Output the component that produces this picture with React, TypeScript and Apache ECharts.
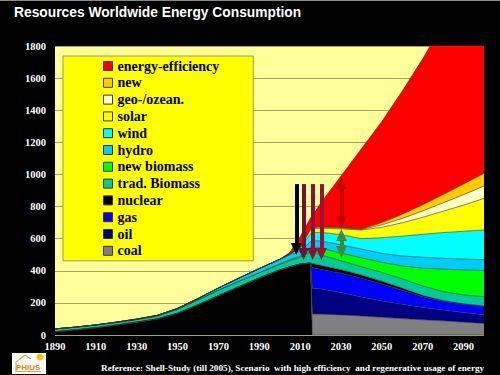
import React, { useEffect, useRef } from "react";
import * as echarts from "echarts";

const BASE_YEAR = 1890;
const years = [1890, 1900, 1910, 1920, 1930, 1940, 1950, 1960, 1970, 1980, 1990, 2000, 2005, 2010, 2015, 2016, 2020, 2030, 2040, 2050, 2060, 2070, 2080, 2090, 2100];

// historic fossil total (black) until 2015
const fossilHist = [20, 32, 45, 62, 80, 100, 135, 188, 245, 300, 355, 405, 425, 442, 448, 0, 0, 0, 0, 0, 0, 0, 0, 0, 0];
const coal = [0, 0, 0, 0, 0, 0, 0, 0, 0, 0, 0, 0, 0, 0, 0, 131, 130, 125, 118, 110, 102, 95, 88, 80, 72];
const oil = [0, 0, 0, 0, 0, 0, 0, 0, 0, 0, 0, 0, 0, 0, 0, 160, 157, 139, 118, 101, 89, 77, 67, 60, 54];
const gas = [0, 0, 0, 0, 0, 0, 0, 0, 0, 0, 0, 0, 0, 0, 0, 130, 123, 121, 118, 107, 88, 66, 55, 52, 54];
const nuclear = [0, 0, 0, 0, 0, 0, 0, 0, 0, 0, 0, 0, 0, 0, 0, 25, 24, 22, 20, 17, 13, 9, 5, 2, 0];
const tradBiomass = [18, 17, 17, 16, 16, 18, 25, 30, 34, 34, 32, 34, 38, 42, 70, 73, 65, 55, 52, 54, 58, 59, 55, 56, 58];
const newBiomass = [0, 0, 0, 0, 0, 0, 0, 0, 0, 0, 2, 4, 6, 8, 28, 31, 44, 48, 55, 64, 80, 110, 140, 155, 164];
const hydro = [0, 0, 1, 2, 3, 4, 6, 9, 14, 20, 25, 28, 30, 30, 36, 37, 43, 52, 54, 56, 62, 68, 68, 68, 67];
const wind = [0, 0, 0, 0, 0, 0, 0, 0, 0, 0, 0, 0, 5, 18, 48, 50, 54, 63, 65, 97, 124, 143, 160, 173, 185];
const solar = [0, 0, 0, 0, 0, 0, 0, 0, 0, 0, 0, 0, 1, 4, 22, 25, 25, 36, 54, 65, 83, 106, 133, 163, 197];
const geo = [0, 0, 0, 0, 0, 0, 0, 0, 0, 0, 0, 0, 0, 2, 6, 6, 6, 5, 3, 15, 27, 40, 52, 65, 77];
const newSources = [0, 0, 0, 0, 0, 0, 0, 0, 0, 0, 0, 0, 0, 1, 4, 4, 4, 4, 3, 14, 26, 39, 52, 66, 79];
const efficiency = [0, 0, 0, 0, 0, 0, 0, 0, 0, 0, 0, 0, 10, 65, 65, 70, 145, 320, 500, 630, 768, 908, 1065, 1240, 1413];

const seriesNames = ["coal", "oil", "gas", "nuclear", "trad. Biomass", "new biomass", "hydro", "wind", "solar", "geo-/ozean.", "new", "energy-efficiency"];
const seriesValues = [coal, oil, gas, nuclear, tradBiomass, newBiomass, hydro, wind, solar, geo, newSources, efficiency];
const seriesColors = ["#808080", "#000080", "#0000FF", "#000000", "#00CC99", "#00FF00", "#00CCFF", "#00FFFF", "#FFFF00", "#FFFFCC", "#FFCC00", "#FF0000"];

const yTicks = { min: 0, max: 1800, interval: 200 };

// arrows: [year, fromValue, toValue, color]
const downArrows: [number, number, number, string][] = [
  [2008.1, 940, 535, "#000000"],
  [2011.7, 940, 505, "#6E1038"],
  [2016.1, 940, 505, "#86103A"],
  [2020.4, 940, 505, "#9A1036"],
];
const doubleArrows: [number, number, number, string][] = [
  [2030.2, 947, 703, "#C80000"],
  [2030.2, 623, 517, "#3A8C3A"],
];

export default function App() {
  const ref = useRef<HTMLDivElement>(null);
  useEffect(() => {
    if (!ref.current) return;
    const chart = echarts.init(ref.current, null, { renderer: "svg" });
    // value first, year offset second: the stacked dimension is the first numeric one
    const toData = (vals: number[]) => years.map((y, i) => [vals[i], y - BASE_YEAR]);

    const markData: any[] = [];
    downArrows.forEach(([yr, a, b, c]) => {
      markData.push([
        { coord: [yr - BASE_YEAR, a], symbol: "none", lineStyle: { color: c, width: 4, type: "solid" } },
        { coord: [yr - BASE_YEAR, b], symbol: "triangle", symbolSize: [11, 12], itemStyle: { color: c } },
      ]);
    });
    doubleArrows.forEach(([yr, a, b, c]) => {
      markData.push([
        { coord: [yr - BASE_YEAR, a], symbol: "triangle", symbolSize: [11, 12], itemStyle: { color: c }, lineStyle: { color: c, width: 4, type: "solid" } },
        { coord: [yr - BASE_YEAR, b], symbol: "triangle", symbolSize: [11, 12], itemStyle: { color: c } },
      ]);
    });

    const common = {
      type: "line",
      stack: "total",
      showSymbol: false,
      symbol: "none",
      encode: { x: 1, y: 0 },
      lineStyle: { width: 0.6, color: "#333" },
      emphasis: { disabled: true },
    };

    const series: any[] = [
      {
        ...common,
        name: "fossil",
        data: toData(fossilHist),
        itemStyle: { color: "#000" },
        areaStyle: { color: "#000", opacity: 1 },
      },
    ];
    seriesNames.forEach((n, i) => {
      const s: any = {
        ...common,
        name: n,
        data: toData(seriesValues[i]),
        itemStyle: { color: seriesColors[i] },
        areaStyle: { color: seriesColors[i], opacity: 1 },
      };
      if (i === seriesNames.length - 1) {
        s.markLine = {
          silent: true,
          animation: false,
          symbol: ["none", "triangle"],
          label: { show: false },
          emphasis: { disabled: true },
          data: markData,
        };
      }
      series.push(s);
    });

    const legendData = seriesNames
      .map((n, i) => ({ name: n, itemStyle: { color: seriesColors[i], borderColor: "#333", borderWidth: 1 } }))
      .reverse();

    chart.setOption({
      animation: false,
      backgroundColor: "#000000",
      title: {
        text: "Resources Worldwide Energy Consumption",
        left: 14,
        top: 5,
        padding: 0,
        textStyle: { color: "#FFFFFF", fontFamily: "Liberation Sans", fontWeight: "bold", fontSize: 13.8 },
      },
      grid: {
        left: 55,
        right: 16,
        top: 46,
        bottom: 40,
        show: true,
        backgroundColor: "#FFFF99",
        borderWidth: 0,
      },
      legend: {
        orient: "vertical",
        left: 63,
        top: 56,
        backgroundColor: "#FFFF00",
        borderColor: "#999966",
        borderWidth: 1,
        padding: [3, 34, 3, 40],
        itemWidth: 9,
        itemHeight: 9,
        itemGap: 2.8,
        icon: "rect",
        selectedMode: false,
        textStyle: { fontFamily: "Liberation Serif", fontWeight: "bold", fontSize: 14, color: "#000", lineHeight: 14 },
        data: legendData,
      },
      xAxis: {
        type: "value",
        min: 0,
        max: 210,
        interval: 20,
        axisLine: { show: false },
        axisTick: { show: false },
        splitLine: { show: false },
        axisLabel: {
          color: "#FFFFFF",
          fontFamily: "Liberation Serif",
          fontWeight: "bold",
          fontSize: 10.5,
          margin: 6,
          showMaxLabel: false,
          formatter: (v: number) => String(v + BASE_YEAR),
        },
      },
      yAxis: {
        type: "value",
        min: yTicks.min,
        max: yTicks.max,
        interval: yTicks.interval,
        axisLine: { show: false },
        axisTick: { show: false },
        splitLine: { show: true, lineStyle: { color: "#A0A070", width: 1 } },
        axisLabel: {
          color: "#FFFFFF",
          fontFamily: "Liberation Serif",
          fontWeight: "bold",
          fontSize: 10.5,
          margin: 9,
          formatter: (v: number) => String(v),
        },
      },
      graphic: [
        { type: "rect", shape: { x: 0, y: 0, width: 500, height: 1 }, style: { fill: "#888" } },
        {
          type: "text",
          x: 101,
          y: 368,
          style: {
            text: "Reference: Shell-Study (till 2005), Scenario  with high efficiency  and regenerative usage of energy",
            fill: "#FFFFFF",
            font: "bold 9.2px 'Liberation Serif'",
            textVerticalAlign: "middle",
          },
        },
        {
          type: "group",
          children: [
            { type: "rect", shape: { x: 12, y: 353, width: 34, height: 21 }, style: { fill: "#FFFFFF" } },
            { type: "polyline", shape: { points: [[16, 372], [16, 362], [25, 355], [31, 359]] }, style: { stroke: "#F0A030", lineWidth: 1.2, fill: null } },
            { type: "circle", shape: { cx: 40, cy: 357, r: 3.5 }, style: { fill: "#FFC000" } },
            { type: "text", x: 16, y: 367, style: { text: "PHIUS", fill: "#E8801A", font: "bold 8px 'Liberation Sans'", textVerticalAlign: "middle" } },
            { type: "rect", shape: { x: 16, y: 371, width: 25, height: 1 }, style: { fill: "#F0A030" } },
          ],
        },
      ],
      series,
    });
    return () => chart.dispose();
  }, []);
  return <div ref={ref} style={{ position: "fixed", left: 0, top: 0, width: 500, height: 375 }} />;
}
